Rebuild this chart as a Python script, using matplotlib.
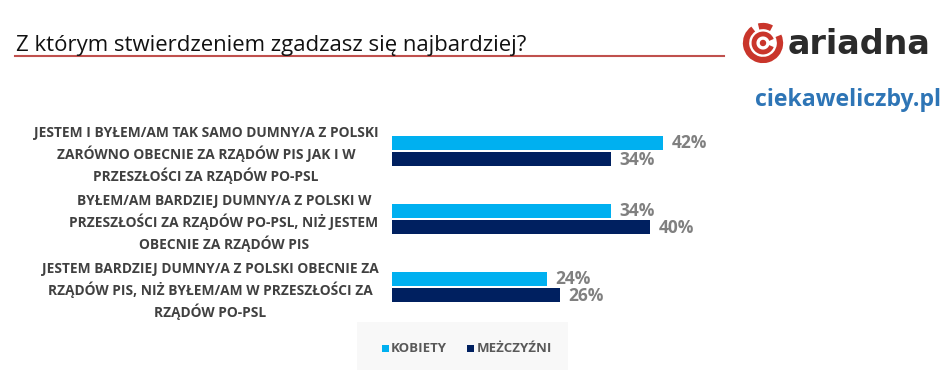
import matplotlib.pyplot as plt
from matplotlib.patches import Arc, Circle, Rectangle
import numpy as np

plt.rcParams['font.family'] = ['Open Sans', 'DejaVu Sans']

categories = [
    "JESTEM I BYŁEM/AM TAK SAMO DUMNY/A Z POLSKI\nZARÓWNO OBECNIE ZA RZĄDÓW PIS JAK I W\nPRZESZŁOŚCI ZA RZĄDÓW PO-PSL",
    "BYŁEM/AM BARDZIEJ DUMNY/A Z POLSKI W\nPRZESZŁOŚCI ZA RZĄDÓW PO-PSL, NIŻ JESTEM\nOBECNIE ZA RZĄDÓW PIS",
    "JESTEM BARDZIEJ DUMNY/A Z POLSKI OBECNIE ZA\nRZĄDÓW PIS, NIŻ BYŁEM/AM W PRZESZŁOŚCI ZA\nRZĄDÓW PO-PSL",
]
kobiety = [42, 34, 24]
mezczyzni = [34, 40, 26]
series_names = ["KOBIETY", "MEŻCZYŹNI"]

c_light = "#00b0f0"
c_dark = "#002060"

W, H = 953, 372
fig = plt.figure(figsize=(W / 100, H / 100), dpi=100)
fig.patch.set_facecolor("white")


def fx(px):
    return px / W


def fy(py):
    return 1 - py / H


# main bar axes (pixel placement)
left, right = 392, 392 + 50 * 6.45
top, bottom = 117, 321
ax = fig.add_axes([fx(left), fy(bottom), fx(right - left), (bottom - top) / H])
y = np.arange(len(categories))
h = 0.215
ax.barh(y - 0.118, kobiety, height=h, color=c_light)
ax.barh(y + 0.118, mezczyzni, height=h, color=c_dark)
ax.set_xlim(0, 50)
ax.set_ylim(2.5, -0.5)
ax.axis("off")

for i in range(len(categories)):
    ax.text(kobiety[i] + 1.3, y[i] - 0.118, f"{kobiety[i]}%", va="center", ha="left",
            fontsize=12.5, fontweight="bold", color="#808080")
    ax.text(mezczyzni[i] + 1.3, y[i] + 0.118 + 0.02, f"{mezczyzni[i]}%", va="center", ha="left",
            fontsize=12.5, fontweight="bold", color="#808080")
    ax.text(-2.1, y[i] + 0.06, categories[i], ha="right", va="center", multialignment="center",
            fontsize=9.9, fontweight="bold", color="#404040", linespacing=1.43)

# title and rule
fig.text(fx(16), fy(45), "Z którym stwierdzeniem zgadzasz się najbardziej?",
         fontsize=15.9, color="#111111", va="center", ha="left")
fig.add_artist(plt.Line2D([fx(15), fx(724)], [fy(56), fy(56)], color="#c0504d", lw=1.5))

# logo
lax = fig.add_axes([fx(742), fy(64), fx(42), 42 / H])
lax.set_xlim(-21, 21)
lax.set_ylim(-21, 21)
lax.set_aspect("equal")
lax.axis("off")
red = "#c9352b"
lax.add_patch(Arc((0, 0), 34, 34, theta1=125, theta2=360 + 25, lw=4.5, color=red))
lax.add_patch(Arc((0, 0), 34, 34, theta1=60, theta2=105, lw=4.5, color=red))
lax.add_patch(Arc((0, 0), 18, 18, theta1=20, theta2=340, lw=3.5, color=red))
lax.add_patch(Circle((0, 0), 2.5, color=red))
fig.text(fx(788), fy(44), "ariadna", fontsize=24, fontweight="bold", color="#2b2b2b",
         va="center", ha="left", family=["DejaVu Sans"])
fig.text(fx(941), fy(100), "ciekaweliczby.pl", fontsize=16.7, fontweight="bold",
         color="#2e75b6", va="center", ha="right")

# legend box
fig.add_artist(Rectangle((fx(357), fy(370)), fx(211), 48 / H, transform=fig.transFigure,
                         facecolor="#f8f8f8", edgecolor="none", zorder=0))
fig.add_artist(Rectangle((fx(382), fy(352)), fx(7), 7 / H, transform=fig.transFigure,
                         facecolor=c_light, edgecolor="none"))
fig.text(fx(391), fy(348), series_names[0], fontsize=9.5, fontweight="bold", color="#595959",
         va="center", ha="left")
fig.add_artist(Rectangle((fx(467), fy(352)), fx(7), 7 / H, transform=fig.transFigure,
                         facecolor=c_dark, edgecolor="none"))
fig.text(fx(477), fy(348), series_names[1], fontsize=9.5, fontweight="bold", color="#595959",
         va="center", ha="left")

fig.savefig("out.png", dpi=100)
